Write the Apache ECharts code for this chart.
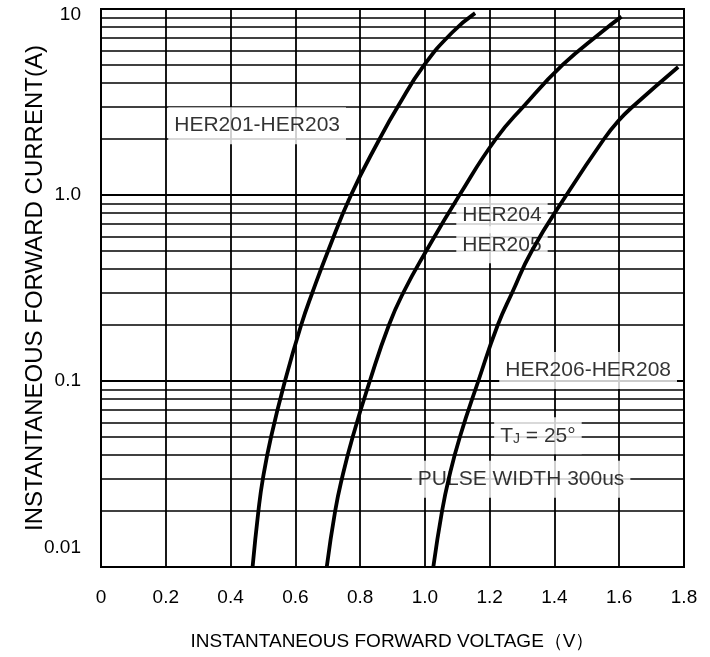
<!DOCTYPE html>
<html>
<head>
<meta charset="utf-8">
<script src="https://cdn.jsdelivr.net/npm/echarts@6/dist/echarts.min.js"></script>
<style>
html,body{margin:0;padding:0;background:#fff;}
#chart{width:710px;height:657px;}
</style>
</head>
<body>
<div id="chart"></div>
<script>
// ---- data ----
const xTickValues = [0, 0.2, 0.4, 0.6, 0.8, 1.0, 1.2, 1.4, 1.6, 1.8];
const yDecadeLabels = { '-2': '0.01', '-1': '0.1', '0': '1.0', '1': '10' };
const gridDecades = [0.01, 0.1, 1];
const gridMultipliers = [2, 3, 4, 5, 6, 7, 8, 9];

const her201I = [0.01, 0.02, 0.03, 0.05, 0.1, 0.2, 0.3, 0.5, 1.0, 2.0, 3.0, 5.0, 7.5, 9.5];
const her201V = [0.468, 0.486, 0.500, 0.525, 0.568, 0.618, 0.653, 0.701, 0.772, 0.860, 0.917, 0.998, 1.085, 1.155];

const her204I = [0.01, 0.02, 0.03, 0.05, 0.1, 0.2, 0.3, 0.5, 1.0, 2.0, 3.0, 5.0, 7.5, 9.1];
const her204V = [0.697, 0.723, 0.744, 0.777, 0.830, 0.889, 0.934, 1.004, 1.107, 1.219, 1.305, 1.425, 1.545, 1.607];

const her206I = [0.01, 0.02, 0.03, 0.05, 0.1, 0.2, 0.3, 0.5, 1.0, 2.0, 2.5, 3.0, 4.88];
const her206V = [1.026, 1.053, 1.074, 1.108, 1.165, 1.225, 1.270, 1.330, 1.437, 1.553, 1.597, 1.643, 1.782];

const annotationTexts = ['HER201-HER203', 'HER204', 'HER205', 'HER206-HER208', '{t|T}{s|J}{t| = 25°}', 'PULSE WIDTH 300us'];
const annotationV = [0.482, 1.238, 1.238, 1.504, 1.349, 1.297];
const annotationI = [2.36, 0.782, 0.54, 0.1138, 0.0507, 0.0296];

// ---- build ----
const FONT = "'Liberation Sans', Arial, sans-serif";
const zip = (a, b) => a.map((v, i) => [v, b[i]]);
const gridValues = [];
gridDecades.forEach(d => gridMultipliers.forEach(m => gridValues.push(+(d * m).toPrecision(3))));

const curveStyle = { color: '#000', width: 3.8 };
function curve(name, v, i) {
  return {
    name, type: 'line', data: zip(v, i), smooth: 0.5, showSymbol: false,
    symbol: 'none', lineStyle: curveStyle, z: 10, silent: true, animation: false
  };
}

const chart = echarts.init(document.getElementById('chart'), null, { renderer: 'canvas' });
chart.setOption({
  animation: false,
  backgroundColor: '#fff',
  textStyle: { fontFamily: FONT, color: '#000' },
  grid: { left: 101, right: 26, top: 9, bottom: 90, show: true, borderColor: '#000', borderWidth: 2, backgroundColor: 'transparent' },
  xAxis: {
    type: 'value', min: 0, max: 1.8, interval: 0.2,
    axisLine: { show: true, lineStyle: { color: '#000', width: 2 } },
    axisTick: { show: false },
    splitLine: { show: true, lineStyle: { color: '#000', width: 1.8 } },
    axisLabel: {
      color: '#000', fontSize: 19, fontFamily: FONT, margin: 21,
      formatter: v => (Math.abs(v) < 1e-9 ? '0' : v.toFixed(1))
    },
    name: 'INSTANTANEOUS FORWARD VOLTAGE（V）',
    nameLocation: 'middle', nameGap: 65, nameMoveOverlap: false,
    nameTextStyle: { color: '#000', fontSize: 19, fontFamily: FONT }
  },
  yAxis: {
    type: 'log', logBase: 10, min: 0.01, max: 10,
    axisLine: { show: true, lineStyle: { color: '#000', width: 2 } },
    axisTick: { show: false },
    splitLine: { show: true, lineStyle: { color: '#000', width: 1.8 } },
    axisLabel: {
      color: '#000', fontSize: 19, fontFamily: FONT, margin: 20,
      formatter: v => {
        const k = Math.round(Math.log10(v));
        const t = yDecadeLabels[String(k)] || '';
        if (k === -2) return '{lo|' + t + '}';
        if (k === 1) return '{hi|' + t + '}';
        return t;
      },
      rich: {
        lo: { fontSize: 19, fontFamily: FONT, color: '#000', padding: [0, 0, 38, 0] },
        hi: { fontSize: 19, fontFamily: FONT, color: '#000', padding: [12, 0, 0, 0] }
      }
    },
    name: 'INSTANTANEOUS FORWARD CURRENT(A)',
    nameLocation: 'middle', nameGap: 54, nameRotate: 90, nameMoveOverlap: false,
    nameTextStyle: { color: '#000', fontSize: 24, fontFamily: FONT }
  },
  series: [
    {
      name: 'grid', type: 'line', data: [], silent: true, z: 1,
      markLine: {
        z: 1, silent: true, symbol: ['none', 'none'], animation: false,
        label: { show: false },
        lineStyle: { color: '#000', width: 1.6, type: 'solid' },
        emphasis: { disabled: true },
        data: gridValues.map(v => ({ yAxis: v }))
      }
    },
    {
      name: 'annotations', type: 'scatter', z: 6, silent: true,
      symbolSize: 1, itemStyle: { color: 'rgba(0,0,0,0)' },
      data: annotationTexts.map((t, i) => ({ value: [annotationV[i], annotationI[i]], text: t })),
      label: {
        show: true, position: 'inside', color: '#000', fontSize: 21, fontFamily: FONT,
        backgroundColor: '#fff', padding: [8, 6],
        formatter: p => p.data.text,
        rich: {
          t: { fontSize: 21, fontFamily: FONT, color: '#000' },
          s: { fontSize: 14, fontFamily: FONT, color: '#000', verticalAlign: 'bottom', padding: [7, 0, 0, 0] }
        }
      }
    },
    curve('HER201-HER203', her201V, her201I),
    curve('HER204-HER205', her204V, her204I),
    curve('HER206-HER208', her206V, her206I)
  ]
});
</script>
</body>
</html>
